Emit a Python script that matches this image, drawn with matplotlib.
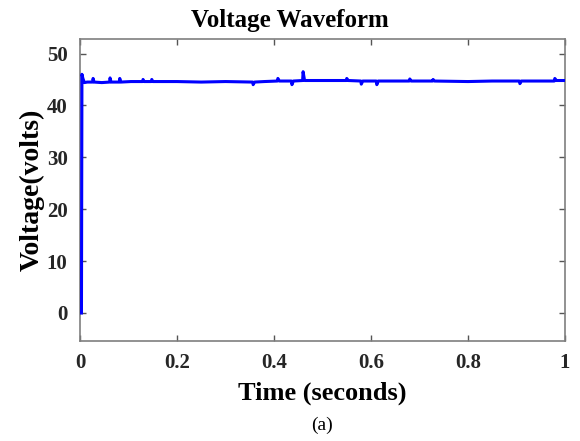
import matplotlib.pyplot as plt

# voltage trace (time in s, voltage in V)
t = [0.003, 0.004, 0.006, 0.009, 0.015, 0.026, 0.027, 0.029, 0.045,
     0.061, 0.062, 0.064, 0.081, 0.082, 0.084, 0.105, 0.129, 0.130, 0.132,
     0.147, 0.148, 0.150, 0.200, 0.250, 0.300, 0.356, 0.357, 0.360, 0.380,
     0.407, 0.408, 0.411, 0.436, 0.437, 0.440, 0.459, 0.460, 0.463, 0.500,
     0.549, 0.550, 0.553, 0.579, 0.580, 0.583, 0.611, 0.612, 0.615, 0.650,
     0.679, 0.680, 0.683, 0.727, 0.728, 0.731, 0.800, 0.850, 0.906, 0.907,
     0.910, 0.950, 0.978, 0.979, 0.982, 1.000]
v = [0.0, 46.0, 45.2, 44.4, 44.5, 44.5, 45.2, 44.5, 44.4,
     44.5, 45.3, 44.5, 44.5, 45.2, 44.5, 44.6, 44.6, 45.0, 44.6,
     44.6, 45.0, 44.6, 44.6, 44.5, 44.6, 44.5, 44.0, 44.5, 44.6,
     44.7, 45.2, 44.7, 44.7, 44.0, 44.7, 44.8, 46.5, 44.8, 44.8,
     44.8, 45.2, 44.8, 44.7, 44.1, 44.7, 44.7, 44.0, 44.7, 44.7,
     44.7, 45.1, 44.7, 44.7, 45.0, 44.7, 44.6, 44.7, 44.7, 44.2,
     44.7, 44.7, 44.7, 45.2, 44.8, 44.8]

x_ticks = [0, 0.2, 0.4, 0.6, 0.8, 1]
x_labels = ['0', '0.2', '0.4', '0.6', '0.8', '1']
y_ticks = [0, 10, 20, 30, 40, 50]

plt.rcParams['font.family'] = ['Liberation Serif', 'DejaVu Serif']

fig = plt.figure(figsize=(5.8, 4.41), dpi=100)
ax = fig.add_axes([80 / 580, 100 / 441, 485 / 580, 302 / 441])

ax.plot(t, v, color='#0000ff', linewidth=2.2, zorder=3)

ax.set_xlim(0, 1)
ax.set_ylim(-5.4, 52.8)
ax.set_xticks(x_ticks)
ax.set_xticklabels(x_labels)
ax.set_yticks(y_ticks)

for s in ax.spines.values():
    s.set_color('#7f7f7f')
    s.set_linewidth(1.2)
ax.tick_params(direction='in', length=4, width=1, color='#555555',
               top=True, right=True, labelsize=15, labelcolor='#262626', pad=9)
for lab in ax.get_xticklabels() + ax.get_yticklabels():
    lab.set_fontweight('bold')

ax.set_xlabel('Time (seconds)', fontsize=19, fontweight='bold', labelpad=6)
ax.set_ylabel('Voltage(volts)', fontsize=20, fontweight='bold', labelpad=1)
fig.text(290 / 580, 1 - 20 / 441, 'Voltage Waveform', fontsize=18,
         fontweight='bold', ha='center', va='center')
fig.text(322 / 580, 1 - 425 / 441, '(a)', fontsize=14, ha='center', va='center')

fig.savefig('out.png', dpi=100)
